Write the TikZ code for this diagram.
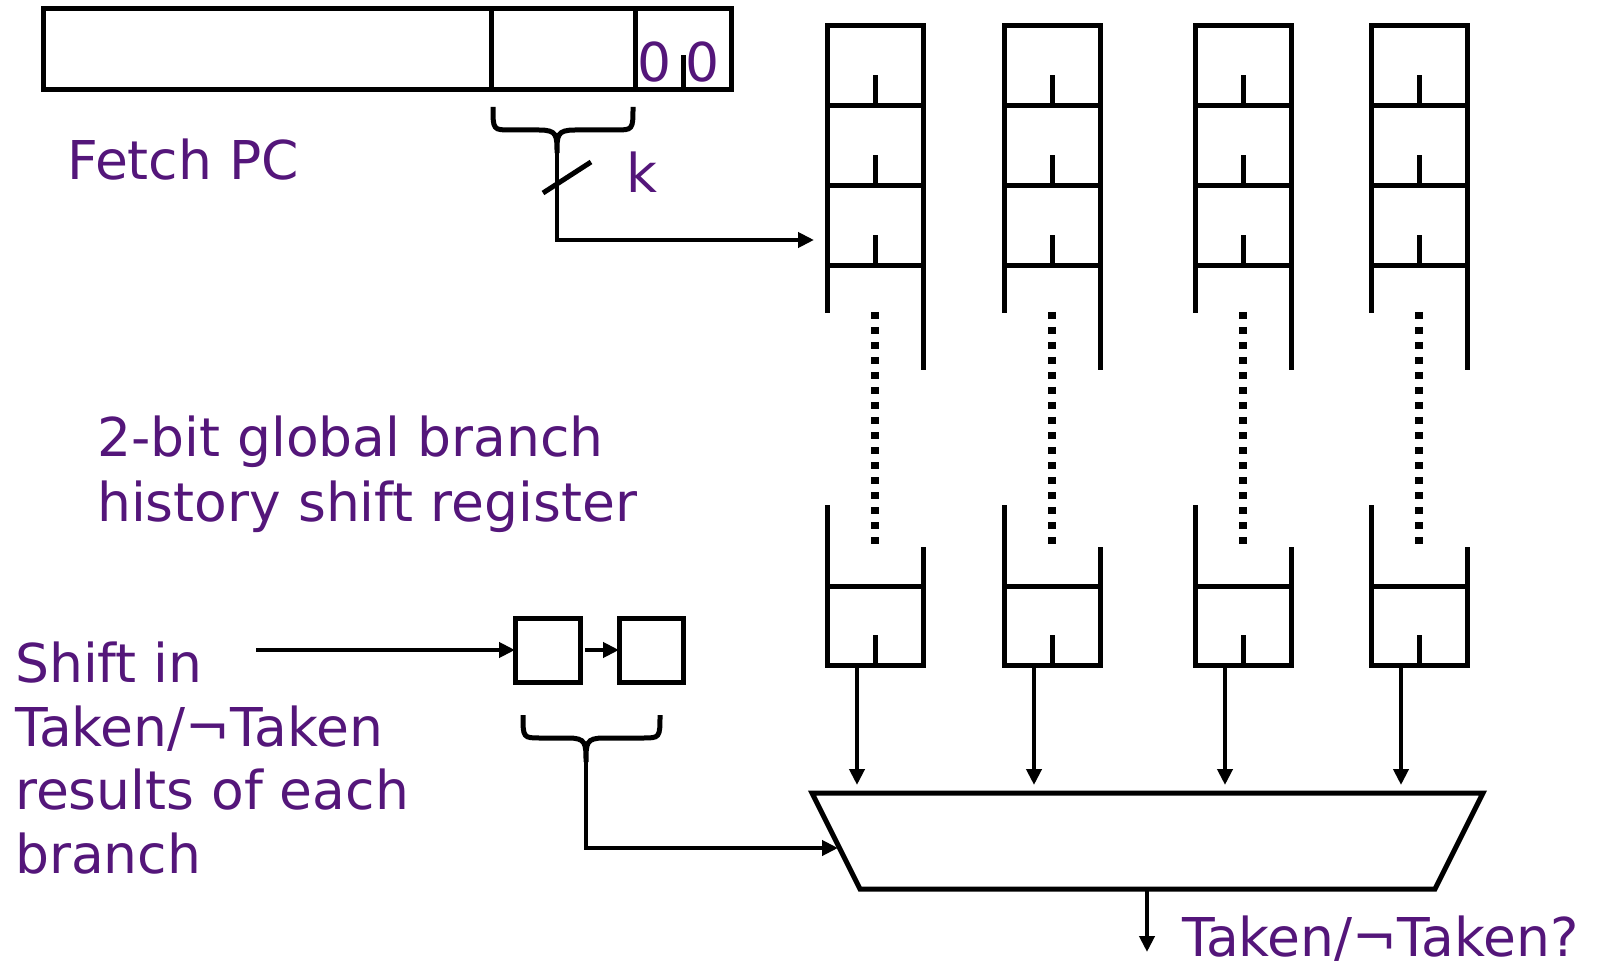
\documentclass[tikz,border=0pt]{standalone}
\usepackage{fontspec}
\setmainfont{DejaVu Sans}
\usetikzlibrary{arrows.meta}
\definecolor{txtpurple}{RGB}{84,22,122}
\begin{document}
\begin{tikzpicture}[x=1pt,y=-1pt,
  ln/.style={line width=5pt, line join=miter, line cap=rect},
  field/.style={draw, line width=5pt, inner sep=0pt, outer sep=0pt, minimum height=81pt},
  cell/.style={draw, line width=5pt, inner sep=0pt, outer sep=0pt, minimum width=96pt, minimum height=80pt},
  sreg/.style={draw, line width=5pt, inner sep=0pt, outer sep=0pt, minimum width=65pt, minimum height=64pt},
  arr/.style={line width=4.5pt, -{Triangle[length=16pt,width=15pt]}},
  dots/.style={line width=8pt, dash pattern=on 7pt off 8pt},
  txt/.style={text=txtpurple, font=\fontsize{53.5}{64}\selectfont, inner sep=0pt, anchor=base west}]
\useasboundingbox (0,0) rectangle (1601,965);

% Fetch PC register
\node[field, minimum width=448pt] (pchi) at (267,49.5) {};
\node[field, minimum width=144pt] (pcidx) at (563,49.5) {};
\node[field, minimum width=96pt] (pclo) at (683,49.5) {};
\draw[ln] (pclo.south) -- ++(0,-32);
\node[txt, anchor=base] (zero1) at (655,82) {0};
\node[txt, anchor=base] (zero2) at (703,82) {0};
\node[txt] (fetchpc) at (67,180) {Fetch PC};

% brace under index bits
\coordinate (bt1) at (557,153);
\draw[line width=5pt] (493,107) .. controls (493,130) and (493,130) .. (511,130) -- (539,130)
  .. controls (557,130) and (557,135) .. (bt1)
  .. controls (557,135) and (557,130) .. (575,130) -- (615,130)
  .. controls (633,130) and (633,130) .. (633,107);
\draw[line width=5pt] (543,193) -- (591,162);
\node[txt] (klabel) at (626,193) {k};
\coordinate (in1) at (814,240);
\draw[arr] (bt1) |- (in1);

% pattern history tables
\foreach \L/\n in {827/1, 1004/2, 1195/3, 1371/4} {
  \node[cell] (col\n-1) at ({\L+48},66) {};
  \node[cell] (col\n-2) at ({\L+48},146) {};
  \node[cell] (col\n-3) at ({\L+48},226) {};
  \foreach \k in {1,2,3} { \draw[line width=5pt] (col\n-\k.south) -- ++(0,-31); }
  \draw[ln] (col\n-3.south west) -- ++(0,45);
  \draw[ln] (col\n-3.south east) -- ++(0,102);
  \node[cell, minimum height=79pt] (col\n-b) at ({\L+48},625.5) {};
  \draw[ln] (col\n-b.north west) -- ++(0,-79);
  \draw[ln] (col\n-b.north east) -- ++(0,-37);
  \draw[line width=5pt] (col\n-b.south) -- ++(0,-30);
  \draw[dots] (col\n-3.south) ++(0,46) -- ++(0,233);
  \coordinate (out\n) at ({\L+30},665);
  \draw[arr] (out\n) -- ++(0,120);
}

% mux
\coordinate (muxTL) at (812,793);
\coordinate (muxTR) at (1483,793);
\coordinate (muxBR) at (1435,889);
\coordinate (muxBL) at (860,889);
\draw[ln, line cap=butt] (muxTL) -- (muxTR) -- (muxBR) -- (muxBL) -- cycle;
\coordinate (muxout) at (1147,889);
\draw[arr] (muxout) -- ++(0,63);
\node[txt] (result) at (1182,956) {Taken/¬Taken?};

% global history shift register
\node[sreg] (sr1) at (547.5,650) {};
\node[sreg, minimum width=64pt] (sr2) at (651,650) {};
\coordinate (sin) at (256,650);
\draw[arr] (sin) -- (sr1.west);
\draw[arr] ([xshift=5pt]sr1.east) -- (sr2.west);
\coordinate (bt2) at (586,762);
\draw[line width=5pt] (523,715) .. controls (523,738) and (523,738) .. (541,738) -- (568,738)
  .. controls (586,738) and (586,743) .. (bt2)
  .. controls (586,743) and (586,738) .. (604,738) -- (642,738)
  .. controls (660,738) and (660,738) .. (660,715);
\coordinate (muxin) at (838,848);
\draw[arr] (bt2) |- (muxin);

% labels
\node[txt] (hist1) at (97,456) {2-bit global branch};
\node[txt] (hist2) at (97,521) {history shift register};
\node[txt] (shift1) at (15,682) {Shift in};
\node[txt] (shift2) at (15,746) {Taken/¬Taken};
\node[txt] (shift3) at (15,809) {results of each};
\node[txt] (shift4) at (15,873) {branch};
\end{tikzpicture}
\end{document}
